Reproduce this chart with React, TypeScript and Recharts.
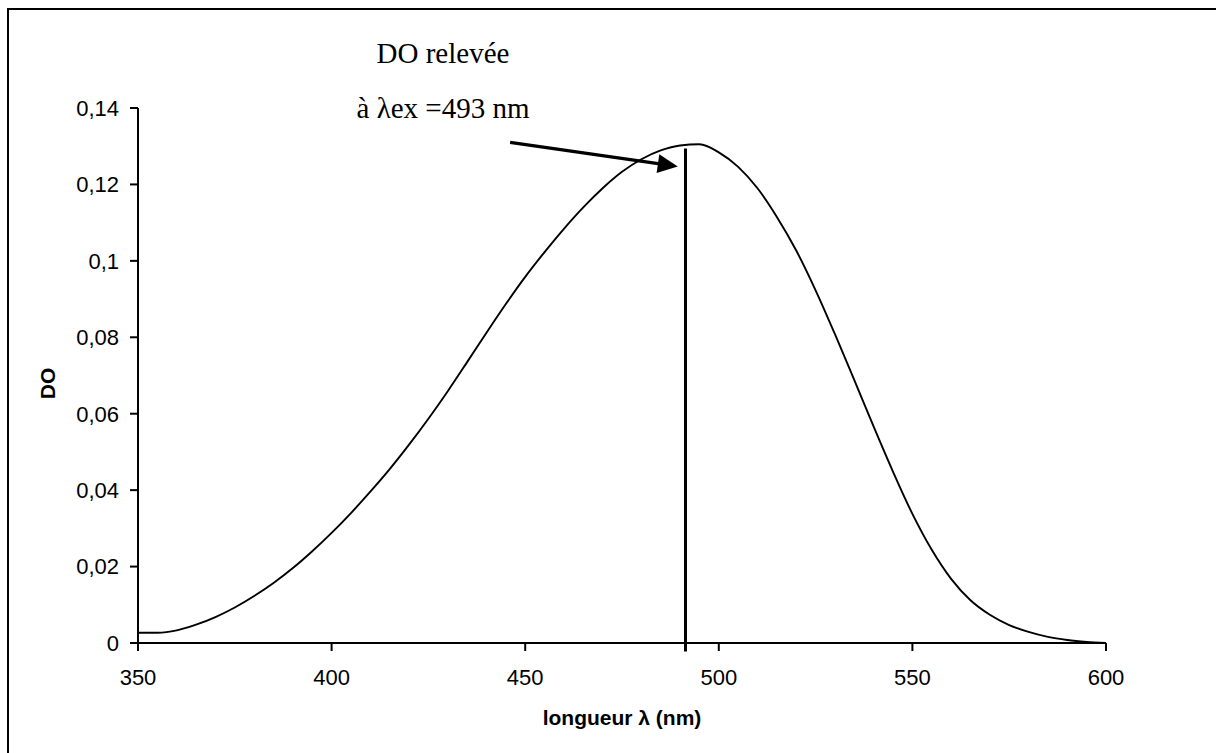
import React from 'react';
import { LineChart, Line, XAxis, YAxis, ReferenceLine, Label } from 'recharts';

const wavelengths = [
  350, 355, 360, 365, 370, 375, 380, 385, 390, 395, 400, 405, 410, 415, 420, 425,
  430, 435, 440, 445, 450, 455, 460, 465, 470, 475, 480, 485, 490, 495, 500, 505,
  510, 515, 520, 525, 530, 535, 540, 545, 550, 555, 560, 565, 570, 575, 580, 585,
  590, 595, 600,
];
const absorbance = [
  0.0027, 0.0027, 0.0033, 0.0048, 0.0068, 0.0093, 0.0123, 0.0157, 0.0196, 0.024, 0.0288, 0.034,
  0.0396, 0.0455, 0.0519, 0.0587, 0.0659, 0.0735, 0.0812, 0.0887, 0.0958, 0.1023, 0.1084, 0.114,
  0.119, 0.1233, 0.1266, 0.1289, 0.1302, 0.1305, 0.1284, 0.1246, 0.119, 0.1115, 0.1027, 0.0923,
  0.0808, 0.0688, 0.0566, 0.0448, 0.0338, 0.0244, 0.0168, 0.0112, 0.0074, 0.0047, 0.0029, 0.0016,
  0.0008, 0.0003, 0.0,
];
const xTicks = [350, 400, 450, 500, 550, 600];
const yTicks = [0, 0.02, 0.04, 0.06, 0.08, 0.1, 0.12, 0.14];
const yTickLabels = ['0', '0,02', '0,04', '0,06', '0,08', '0,1', '0,12', '0,14'];

const markerWavelength = 491.4;
const markerTop = 0.1294;
const markerBottom = -0.0022;
const arrowStart = { x: 446.1, y: 0.131 };
const arrowEnd = { x: 489.4, y: 0.1247 };

const annotationLines = ['DO relevée', 'à λex =493 nm'];
const xTitle = 'longueur λ (nm)';
const yTitle = 'DO';

const data = wavelengths.map((w, i) => ({ w, v: absorbance[i] }));

const tickFont = { fontFamily: '"Liberation Sans", Arial, sans-serif', fontSize: 22, fill: '#000' };

const ArrowShape = (props: any) => {
  const { x1, y1, x2, y2 } = props;
  const dx = x2 - x1;
  const dy = y2 - y1;
  const len = Math.sqrt(dx * dx + dy * dy) || 1;
  const ux = dx / len;
  const uy = dy / len;
  const headLen = 20;
  const headHalf = 9.5;
  const bx = x2 - ux * headLen;
  const by = y2 - uy * headLen;
  const nx = -uy;
  const ny = ux;
  const pts = `${x2},${y2} ${bx + nx * headHalf},${by + ny * headHalf} ${bx - nx * headHalf},${by - ny * headHalf}`;
  return (
    <g>
      <line x1={x1} y1={y1} x2={bx + ux * 2} y2={by + uy * 2} stroke="#000" strokeWidth={3.2} />
      <polygon points={pts} fill="#000" />
    </g>
  );
};

export default function App() {
  return (
    <div style={{ position: 'absolute', left: 0, top: 0, width: 1216, height: 753, overflow: 'hidden', background: '#fff' }}>
      <div
        style={{
          position: 'absolute',
          left: 7,
          top: 8,
          width: 1230,
          height: 770,
          borderTop: '2px solid #000',
          borderLeft: '2px solid #000',
          boxSizing: 'border-box',
        }}
      />
      <div style={{ position: 'absolute', left: 0, top: 0 }}>
        <LineChart width={1216} height={753} data={data} margin={{ top: 108, right: 110, bottom: 0, left: 0 }}>
          <XAxis
            dataKey="w"
            type="number"
            domain={[350, 600]}
            ticks={xTicks}
            height={110}
            stroke="#000"
            strokeWidth={2}
            tickSize={8}
            tickMargin={18}
            tick={tickFont}
            tickLine={{ stroke: '#000', strokeWidth: 2 }}
          >
            <Label
              content={(p: any) => {
                const vb = p.viewBox;
                return (
                  <text
                    x={vb.x + vb.width / 2}
                    y={vb.y + 82}
                    textAnchor="middle"
                    style={{ fontFamily: '"Liberation Sans", Arial, sans-serif', fontSize: 21, fontWeight: 'bold' }}
                    fill="#000"
                  >
                    {xTitle}
                  </text>
                );
              }}
            />
          </XAxis>
          <YAxis
            type="number"
            domain={[0, 0.14]}
            ticks={yTicks}
            width={138}
            stroke="#000"
            strokeWidth={2}
            tickSize={8}
            tickMargin={11}
            tick={tickFont}
            tickLine={{ stroke: '#000', strokeWidth: 2 }}
            tickFormatter={(v: number) => yTickLabels[yTicks.findIndex((t) => Math.abs(t - v) < 1e-9)] ?? String(v)}
          >
            <Label
              content={(p: any) => {
                const vb = p.viewBox;
                const cx = 47;
                const cy = vb.y + vb.height / 2 + 8;
                return (
                  <text
                    x={cx}
                    y={cy}
                    textAnchor="middle"
                    dominantBaseline="central"
                    transform={`rotate(-90 ${cx} ${cy})`}
                    style={{ fontFamily: '"Liberation Sans", Arial, sans-serif', fontSize: 21, fontWeight: 'bold' }}
                    fill="#000"
                  >
                    {yTitle}
                  </text>
                );
              }}
            />
          </YAxis>
          <Line
            dataKey="v"
            type="monotone"
            stroke="#000"
            strokeWidth={1.9}
            dot={false}
            isAnimationActive={false}
          />
          <ReferenceLine
            segment={[
              { x: markerWavelength, y: markerTop },
              { x: markerWavelength, y: markerBottom },
            ]}
            stroke="#000"
            strokeWidth={3}
            ifOverflow="visible"
          />
          <ReferenceLine
            segment={[arrowStart, arrowEnd]}
            stroke="#000"
            strokeWidth={3}
            ifOverflow="visible"
            shape={ArrowShape}
          />
        </LineChart>
      </div>
      <svg width={1216} height={753} style={{ position: 'absolute', left: 0, top: 0, pointerEvents: 'none' }}>
        <text x={443} y={63} textAnchor="middle" style={{ fontFamily: '"Liberation Serif", "Times New Roman", serif', fontSize: 29 }} fill="#000">
          {annotationLines[0]}
        </text>
        <text x={443} y={118} textAnchor="middle" style={{ fontFamily: '"Liberation Serif", "Times New Roman", serif', fontSize: 29 }} fill="#000">
          {annotationLines[1]}
        </text>
      </svg>
    </div>
  );
}
